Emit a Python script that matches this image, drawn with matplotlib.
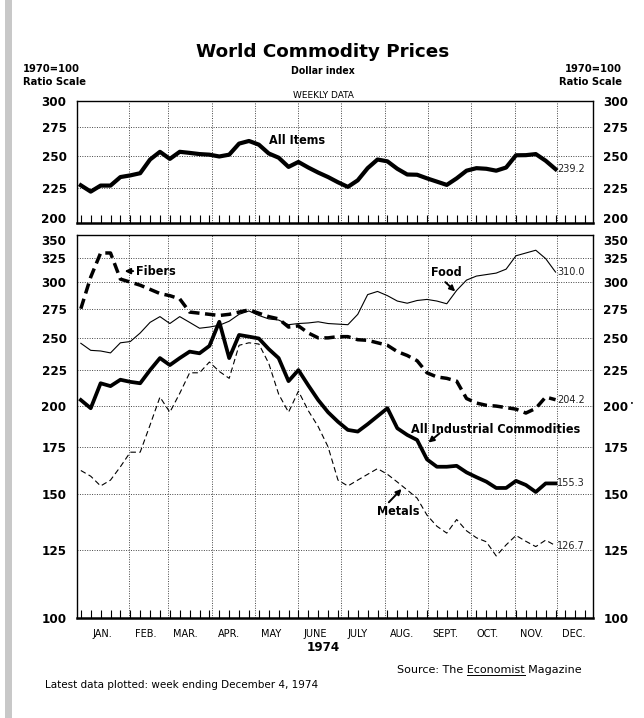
import numpy as np
import matplotlib
matplotlib.use("Agg")
import matplotlib.pyplot as plt
from matplotlib.ticker import NullLocator
from matplotlib.patches import Rectangle
from matplotlib.transforms import ScaledTranslation

# weekly index values, 1970=100
all_items = [226.7, 222, 226.5, 226.5, 233, 234.3, 236, 247, 253.4, 247.5,
             253.4, 252.5, 251.5, 251, 249.5, 251, 260.4, 262.7, 259.5, 252,
             248.5, 241, 245, 240.5, 236.5, 233, 229, 225.5, 230.5, 240,
             247, 245.5, 239.5, 235, 234.8, 232, 229.5, 227, 232, 238,
             240, 239.5, 238, 240.5, 250.5, 250.6, 251.5, 246, 239.2]
fibers = [275, 305, 330, 330, 303, 300, 297, 293, 289, 287,
          284, 272, 271, 270, 269, 270, 272, 274, 271, 268,
          266, 259, 260, 254, 250, 250, 251, 251, 248.5, 248,
          246, 244, 239, 236, 232, 223, 220, 219, 217, 205,
          202, 200.5, 200, 199, 198, 195.5, 198.5, 206, 204.2]
food = [245.6, 240, 239.5, 238, 246, 247, 254, 263, 268, 262,
        268, 263, 258, 259, 260.5, 264, 270, 273, 269, 266,
        265, 261, 262, 262.5, 263.5, 262, 261.5, 261, 270, 288,
        291, 287, 282, 280, 282.5, 283.5, 282, 279.5, 292, 302,
        306, 307.5, 309, 313, 327, 330, 333, 324, 310.0]
industrials = [204, 198.6, 215.5, 213.5, 218, 216.5, 215.5, 225, 234, 228.7,
               234, 239, 237.7, 243.5, 263.5, 234, 252.4, 251, 249.5, 241,
               234, 217, 225, 214, 204, 196, 190, 185, 184, 188.5,
               193.5, 198.6, 186, 182, 179, 168, 164, 164, 164.5, 161,
               158.5, 156.2, 153, 153, 156.6, 154.5, 151, 155.3, 155.3]
metals = [162, 159, 154, 157, 164, 172, 172, 188, 206, 196,
          208.5, 223, 223, 231, 224, 219, 244, 246, 245, 230,
          208, 196, 210, 197, 187, 175, 157, 154, 157, 160,
          163, 160, 156, 152, 148, 140, 135, 132, 138, 133,
          130, 128.3, 122.5, 127, 131, 128.5, 126.3, 129, 126.7]

months = ["JAN.", "FEB.", "MAR.", "APR.", "MAY", "JUNE", "JULY",
          "AUG.", "SEPT.", "OCT.", "NOV.", "DEC."]
month_starts = [0, 31, 59, 90, 120, 151, 181, 212, 243, 273, 304, 334]
top_ticks = [200, 225, 250, 275, 300]
bottom_ticks = [100, 125, 150, 175, 200, 225, 250, 275, 300, 325, 350]

# x in days from Jan 1 1974, one point a week
days = -3 + 7 * np.arange(len(all_items))
tick_days = -3 + 7 * np.arange(52)

THIN = ["DejaVu Sans"]
plt.rcParams["font.family"] = ["DejaVu Sans"]
plt.rcParams["font.stretch"] = "condensed"
BOLD = dict(fontweight="bold", fontstretch="condensed")

fig = plt.figure(figsize=(6.44, 7.18), dpi=100)
ax_top = fig.add_axes([0.1196, 0.6894, 0.8012, 0.1699])
ax_bot = fig.add_axes([0.1196, 0.1393, 0.8012, 0.5334])

for ax, ticks, lo, hi, th in [(ax_top, top_ticks, 200, 300, 0.066),
                              (ax_bot, bottom_ticks, 100, 350, 0.021)]:
    ax.set_yscale("log")
    ax.set_ylim(lo, hi)
    ax.set_xlim(-5.7, 359.5)
    ax.set_yticks(ticks)
    ax.set_yticklabels([str(t) for t in ticks], fontsize=9.5, **BOLD)
    ax.yaxis.set_minor_locator(NullLocator())
    ax.tick_params(axis="y", left=False, right=False, labelleft=True,
                   labelright=True, pad=4)
    for t in ticks[1:-1]:
        ax.axhline(t, color="#444444", lw=0.7, ls=(0, (1, 1.5)), zorder=1)
    for d in month_starts[1:]:
        ax.axvline(d, color="#444444", lw=0.7, ls=(0, (1, 1.5)), zorder=1)
    ax.vlines(tick_days, 0, th, transform=ax.get_xaxis_transform(),
              color="black", lw=0.8, zorder=2)
    for s in ax.spines.values():
        s.set_linewidth(1.0)
    ax.spines["bottom"].set_linewidth(1.8)

# the 200 (top panel) and 350 (bottom panel) labels sit stacked
up = ScaledTranslation(0, 3.5 / 72, fig.dpi_scale_trans)
down = ScaledTranslation(0, -3.5 / 72, fig.dpi_scale_trans)
t_low = ax_top.yaxis.get_major_ticks()[0]
t_high = ax_bot.yaxis.get_major_ticks()[-1]
for lab in (t_low.label1, t_low.label2):
    lab.set_transform(lab.get_transform() + up)
for lab in (t_high.label1, t_high.label2):
    lab.set_transform(lab.get_transform() + down)

ax_top.set_xticks([])
ax_bot.set_xticks([d + 12 for d in month_starts])
ax_bot.set_xticklabels(months, family=THIN, fontsize=7, fontstretch="normal")
ax_bot.tick_params(axis="x", length=0, pad=8)

# top panel
ax_top.plot(days, all_items, color="black", lw=3.0, solid_joinstyle="round", zorder=3)
ax_top.text(150, 263, "All Items", ha="center", va="center", fontsize=9, **BOLD)
ax_top.annotate("239.2", (days[-1], all_items[-1]), xytext=(1, 0),
                textcoords="offset points", va="center", ha="left",
                family=THIN, fontsize=7, fontstretch="normal", color="#222222")

# bottom panel
ax_bot.plot(days, food, color="black", lw=0.8, zorder=3)
ax_bot.plot(days, fibers, color="black", lw=2.5, ls=(0, (3, 1.6)), zorder=3)
ax_bot.plot(days, industrials, color="black", lw=2.7, solid_joinstyle="round", zorder=3)
ax_bot.plot(days, metals, color="black", lw=0.8, ls=(0, (5, 3)), zorder=3)

for vals in (food, fibers, industrials, metals):
    ax_bot.annotate(f"{vals[-1]:.1f}", (days[-1], vals[-1]), xytext=(1, 0),
                    textcoords="offset points", va="center", ha="left",
                    family=THIN, fontsize=7, fontstretch="normal", color="#222222")

arrow = dict(arrowstyle="-|>", color="black", lw=1.4, mutation_scale=8,
             shrinkA=0, shrinkB=0)
ax_bot.annotate("Fibers", xy=(28, 311), xytext=(36, 311), va="center",
                ha="left", fontsize=9, arrowprops=arrow, **BOLD)
ax_bot.text(256, 310, "Food", ha="center", va="center", fontsize=9, **BOLD)
ax_bot.annotate("", xy=(262, 291), xytext=(255, 300), arrowprops=arrow)
ax_bot.text(231, 185.5, "All Industrial Commodities", ha="left", va="center",
            fontsize=9, **BOLD)
ax_bot.annotate("", xy=(243, 177.5), xytext=(251, 183), arrowprops=arrow)
ax_bot.text(222, 141.5, "Metals", ha="center", va="center", fontsize=9, **BOLD)
ax_bot.annotate("", xy=(224, 152.5), xytext=(215, 146), arrowprops=arrow)

# headings
fig.text(0.5016, 0.9276, "World Commodity Prices", ha="center", va="center",
         family=THIN, fontsize=13.2, fontweight="bold", fontstretch="normal")
fig.text(0.5016, 0.901, "Dollar index", ha="center", va="center",
         fontsize=7.5, **BOLD)
fig.text(0.5016, 0.8665, "WEEKLY DATA", ha="center", va="center",
         family=THIN, fontsize=6.5, fontstretch="normal")
fig.text(0.036, 0.9035, "1970=100", ha="left", va="center", fontsize=8, **BOLD)
fig.text(0.036, 0.8855, "Ratio Scale", ha="left", va="center", fontsize=8, **BOLD)
fig.text(0.966, 0.9035, "1970=100", ha="right", va="center", fontsize=8, **BOLD)
fig.text(0.966, 0.8855, "Ratio Scale", ha="right", va="center", fontsize=8, **BOLD)
fig.text(0.978, 0.437, "•", ha="left", va="center", fontsize=5)

fig.text(0.5016, 0.0975, "1974", ha="center", va="center", fontsize=9.5, **BOLD)
src = fig.text(0.9037, 0.0669, "Source: The Economist Magazine", ha="right",
               va="center", family=THIN, fontsize=8, fontstretch="normal")
fig.text(0.0699, 0.046, "Latest data plotted: week ending December 4, 1974",
         ha="left", va="center", family=THIN, fontsize=7.5, fontstretch="normal")

# underline "Economist"
fig.canvas.draw()
r = fig.canvas.get_renderer()
inv = fig.transFigure.inverted()
p1 = fig.text(0.9037, 0.0669, "Economist Magazine", ha="right", va="center",
              family=THIN, fontsize=8, fontstretch="normal", alpha=0)
p2 = fig.text(0.5, 0.5, "Economist", family=THIN, fontsize=8,
              fontstretch="normal", alpha=0)
b1 = p1.get_window_extent(r)
b2 = p2.get_window_extent(r)
x0 = inv.transform((b1.x0, 0))[0]
x1 = inv.transform((b1.x0 + b2.width, 0))[0]
y0 = inv.transform((0, src.get_window_extent(r).y0))[1]
fig.add_artist(plt.Line2D([x0, x1], [y0, y0], lw=0.7, color="black",
                          transform=fig.transFigure))

# scanned page edge on the left
fig.add_artist(Rectangle((0.008, 0.0), 0.01, 1.0, transform=fig.transFigure,
                         color="#c8c8c8", lw=0))

fig.savefig("out.png", dpi=100)
